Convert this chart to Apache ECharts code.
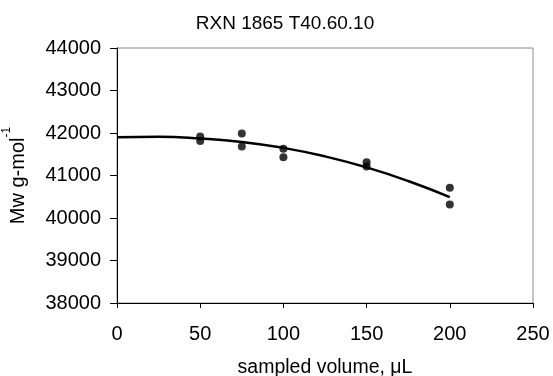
<!DOCTYPE html>
<html>
<head>
<meta charset="utf-8">
<script src="https://cdn.jsdelivr.net/npm/echarts@6/dist/echarts.min.js"></script>
<style>
  html, body { margin: 0; padding: 0; background: #fff; }
  #chart { width: 553px; height: 376px; }
</style>
</head>
<body>
<div id="chart"></div>
<script>
// measured points
const sampledVolume = [50, 50, 75, 75, 100, 100, 150, 150, 200, 200];
const mwValues = [41920, 41810, 41990, 41680, 41630, 41430, 41310, 41210, 40710, 40320];

// trend line
const trendVolume = [0, 25, 50, 75, 100, 125, 150, 175, 200];
const trendMw = [41900, 41910, 41870, 41790, 41650, 41450, 41190, 40870, 40490];

const chart = echarts.init(document.getElementById('chart'));
const font = 'Liberation Sans, Arial, sans-serif';

chart.setOption({
  animation: false,
  title: {
    text: 'RXN 1865 T40.60.10',
    left: 280,
    top: 9,
    textAlign: 'center',
    textStyle: { fontFamily: font, fontSize: 19, fontWeight: 'normal', color: '#000' }
  },
  grid: {
    left: 117, right: 20, top: 48, bottom: 73,
    outerBoundsMode: 'none',
    containLabel: false,
    show: true, borderColor: '#8a8a8a', borderWidth: 1
  },
  xAxis: {
    type: 'value',
    min: 0, max: 250, interval: 50,
    name: 'sampled volume, μL',
    nameLocation: 'middle',
    nameGap: 55,
    nameTextStyle: { fontFamily: font, fontSize: 19.5, color: '#000' },
    axisLine: { lineStyle: { color: '#000', width: 1 } },
    axisTick: { show: true, length: 5, lineStyle: { color: '#000' } },
    axisLabel: { fontFamily: font, fontSize: 20, color: '#000', margin: 21 },
    splitLine: { show: false }
  },
  yAxis: {
    type: 'value',
    min: 38000, max: 44000, interval: 1000,
    name: '{n|Mw g-mol}{s|-1}',
    nameLocation: 'middle',
    nameGap: 89,
    nameRotate: 90,
    nameTextStyle: {
      fontFamily: font, fontSize: 20, color: '#000',
      rich: {
        n: { fontFamily: font, fontSize: 20, color: '#000', verticalAlign: 'bottom' },
        s: { fontFamily: font, fontSize: 12, color: '#000', verticalAlign: 'top', padding: [0, 0, 15, 0] }
      }
    },
    axisLine: { show: true, lineStyle: { color: '#000', width: 1 } },
    axisTick: { show: true, length: 7, lineStyle: { color: '#000' } },
    axisLabel: {
      fontFamily: font, fontSize: 20, color: '#000', margin: 16,
      formatter: v => String(v)
    },
    splitLine: { show: false }
  },
  series: [
    {
      type: 'line',
      data: trendVolume.map((v, i) => [v, trendMw[i]]),
      smooth: true,
      showSymbol: false,
      lineStyle: { color: '#000', width: 2.5 },
      z: 2
    },
    {
      type: 'scatter',
      data: sampledVolume.map((v, i) => [v, mwValues[i]]),
      symbol: 'circle',
      symbolSize: 8,
      itemStyle: { color: '#000' },
      z: 3
    }
  ]
});
</script>
</body>
</html>
